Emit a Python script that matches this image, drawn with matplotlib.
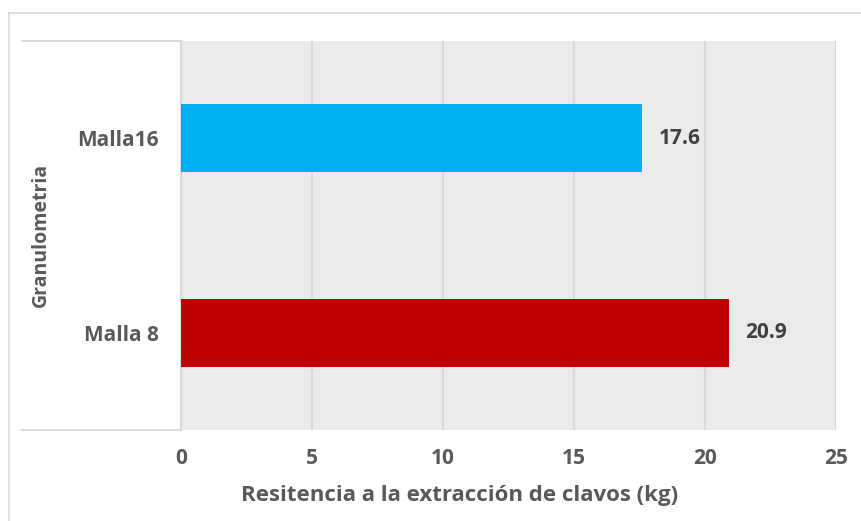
import matplotlib.pyplot as plt
from matplotlib.lines import Line2D

categories = ["Malla 8", "Malla16"]
values = [20.9, 17.6]
colors = ["#C00000", "#00B0F0"]
xticks = [0, 5, 10, 15, 20, 25]

plt.rcParams['font.family'] = ['Open Sans', 'DejaVu Sans']

fig = plt.figure(figsize=(8.62, 5.21), dpi=100)
W, H = 862, 521

# plot area in pixels: x 181..836, y 41..430
ax = fig.add_axes([181 / W, 1 - 430 / H, (836 - 181) / W, (430 - 41) / H])
ax.set_facecolor("#EBEBEB")

ypos = list(range(len(categories)))
ax.barh(ypos, values, height=0.35, color=colors, zorder=3)
for y, v in zip(ypos, values):
    ax.text(v + 0.65, y, f"{v:.1f}", va="center", ha="left",
            fontsize=15, fontweight="bold", color="#404040")

ax.set_xlim(0, 25)
ax.set_ylim(-0.5, 1.5)
ax.set_xticks(xticks)
ax.set_xticklabels([str(t) for t in xticks], fontsize=15, fontweight="bold", color="#595959")
ax.set_yticks(ypos)
ax.set_yticklabels(categories, fontsize=15, fontweight="bold", color="#595959")
ax.tick_params(axis="both", length=0)
ax.tick_params(axis="x", pad=13)
ax.tick_params(axis="y", pad=16)
ax.grid(axis="x", color="#D9D9D9", linewidth=1.5, zorder=1)
for s in ["top", "bottom", "right"]:
    ax.spines[s].set_visible(False)
ax.spines["left"].set_color("#D9D9D9")
ax.spines["left"].set_linewidth(1.5)

fig.text(460 / W, 1 - 495 / H, "Resitencia a la extracción de clavos (kg)", ha="center", va="center",
         fontsize=16, fontweight="bold", color="#595959")
fig.text(41 / W, 1 - 235 / H, "Granulometria", rotation=90, ha="center", va="center",
         fontsize=14, fontweight="bold", color="#595959")

# category axis boundary lines in the label area
for yy in [41, 430]:
    fig.add_artist(Line2D([22 / W, 181 / W], [1 - yy / H, 1 - yy / H],
                          color="#D9D9D9", linewidth=1.5))
# outer chart border (top and left visible)
fig.add_artist(Line2D([9.5 / W, 1], [1 - 12.5 / H, 1 - 12.5 / H], color="#D9D9D9", linewidth=1.2))
fig.add_artist(Line2D([9.5 / W, 9.5 / W], [0, 1 - 12.5 / H], color="#D9D9D9", linewidth=1.2))

plt.savefig("out.png", dpi=100)
